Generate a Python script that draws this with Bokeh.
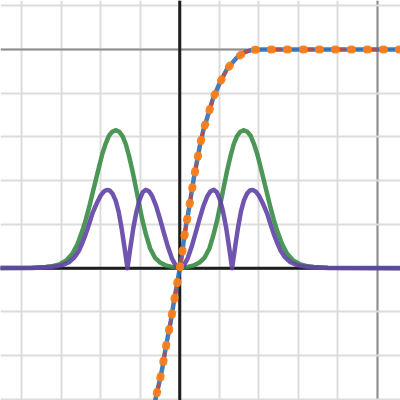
from bokeh.plotting import figure
from bokeh.models import Span, SingleIntervalTicker
from bokeh.embed import file_html
from bokeh.resources import INLINE

# Saturating curve (drawn three times: solid blue, dashed red, dotted orange)
curve_x = [-0.145, -0.123, -0.106, -0.089, -0.076, -0.061, -0.045, -0.032, -0.018, -0.005,
           0.010, 0.020, 0.032, 0.046, 0.059, 0.072, 0.087, 0.102, 0.120, 0.145,
           0.168, 0.203, 0.240, 0.291, 0.330, 0.367, 0.420, 1.200]
curve_y = [-0.715, -0.598, -0.532, -0.460, -0.389, -0.315, -0.239, -0.166, -0.094, -0.026,
           0.053, 0.125, 0.197, 0.269, 0.342, 0.416, 0.488, 0.561, 0.633, 0.705,
           0.775, 0.848, 0.912, 0.965, 0.988, 0.998, 1.000, 1.000]

# Green two-bump curve
green_x = [-1.2, -0.75, -0.679, -0.645, -0.611, -0.575, -0.544, -0.518, -0.493, -0.476,
           -0.459, -0.443, -0.426, -0.409, -0.392, -0.375, -0.358, -0.342, -0.325, -0.307,
           -0.290, -0.274, -0.257, -0.240, -0.223, -0.206, -0.190, -0.172, -0.150, -0.125,
           -0.100, -0.070, -0.040, 0.000,
           0.040, 0.070, 0.100, 0.125, 0.150, 0.172, 0.190, 0.206, 0.223, 0.240,
           0.257, 0.274, 0.290, 0.307, 0.325, 0.342, 0.358, 0.375, 0.392, 0.409,
           0.426, 0.443, 0.459, 0.476, 0.493, 0.518, 0.544, 0.575, 0.611, 0.645,
           0.679, 0.75, 1.2]
green_y = [0.0, 0.002, 0.005, 0.009, 0.017, 0.035, 0.066, 0.110, 0.172, 0.222,
           0.279, 0.338, 0.401, 0.463, 0.523, 0.570, 0.607, 0.624, 0.631, 0.624,
           0.604, 0.569, 0.513, 0.447, 0.372, 0.294, 0.222, 0.157, 0.090, 0.047,
           0.026, 0.012, 0.006, 0.003,
           0.006, 0.012, 0.026, 0.047, 0.090, 0.157, 0.222, 0.294, 0.372, 0.447,
           0.513, 0.569, 0.604, 0.624, 0.631, 0.624, 0.607, 0.570, 0.523, 0.463,
           0.401, 0.338, 0.279, 0.222, 0.172, 0.110, 0.066, 0.035, 0.017, 0.009,
           0.005, 0.002, 0.0]

# Purple four-bump curve
purple_x = [-1.2, -0.750, -0.680, -0.628, -0.595, -0.561, -0.535, -0.510, -0.493, -0.476,
            -0.460, -0.443, -0.420, -0.400, -0.385, -0.370, -0.355, -0.340, -0.325, -0.310,
            -0.295, -0.280, -0.265, -0.250, -0.235, -0.220, -0.204, -0.188, -0.172, -0.156,
            -0.140, -0.120, -0.100, -0.080, -0.060, -0.040, -0.020, 0.000,
            0.020, 0.040, 0.060, 0.080, 0.100, 0.120, 0.140, 0.156, 0.172, 0.188,
            0.204, 0.220, 0.235, 0.250, 0.265, 0.280, 0.295, 0.310, 0.325, 0.340,
            0.355, 0.370, 0.385, 0.400, 0.420, 0.443, 0.460, 0.476, 0.493, 0.510,
            0.535, 0.561, 0.595, 0.628, 0.680, 0.750, 1.2]
purple_y = [0.0, 0.001, 0.004, 0.009, 0.014, 0.027, 0.048, 0.081, 0.117, 0.157,
            0.200, 0.249, 0.298, 0.333, 0.350, 0.358, 0.355, 0.340, 0.310, 0.260,
            0.185, 0.095, 0.000, 0.095, 0.185, 0.255, 0.312, 0.347, 0.358, 0.352,
            0.330, 0.285, 0.225, 0.160, 0.098, 0.045, 0.012, 0.000,
            0.012, 0.045, 0.098, 0.160, 0.225, 0.285, 0.330, 0.352, 0.358, 0.347,
            0.312, 0.255, 0.185, 0.095, 0.000, 0.095, 0.185, 0.260, 0.310, 0.340,
            0.355, 0.358, 0.350, 0.333, 0.298, 0.249, 0.200, 0.157, 0.117, 0.081,
            0.048, 0.027, 0.014, 0.009, 0.004, 0.001, 0.0]

p = figure(width=400, height=400, x_range=(-0.908, 1.118), y_range=(-0.605, 1.224),
           output_backend="svg", toolbar_location=None, min_border=0)
p.xaxis.visible = False
p.yaxis.visible = False
p.outline_line_color = None
p.background_fill_color = "white"

for g in (p.xgrid[0], p.ygrid[0]):
    g.ticker = SingleIntervalTicker(interval=1, num_minor_ticks=5)
    g.grid_line_color = "#8c8c8c"
    g.grid_line_width = 2
    g.minor_grid_line_color = "#dcdcdc"
    g.minor_grid_line_width = 2

p.add_layout(Span(location=0, dimension="height", line_color="#1e1e1e", line_width=3, level="underlay"))
p.add_layout(Span(location=0, dimension="width", line_color="#1e1e1e", line_width=3, level="underlay"))

p.line(green_x, green_y, line_color="#388c46", line_width=4.5, line_alpha=0.9, line_join="round")
p.line(purple_x, purple_y, line_color="#6042a6", line_width=4.5, line_alpha=0.9, line_join="round")
p.line(curve_x, curve_y, line_color="#2d70b3", line_width=4.5, line_alpha=0.9, line_join="round")
p.line(curve_x, curve_y, line_color="#c74440", line_width=3.5, line_alpha=0.85, line_dash="10 22",
       line_join="round")
p.line(curve_x, curve_y, line_color="#fa7e19", line_width=8, line_alpha=0.95, line_dash="1 15",
       line_cap="round", line_join="round")

open("out.html", "w").write(file_html(p, INLINE))
